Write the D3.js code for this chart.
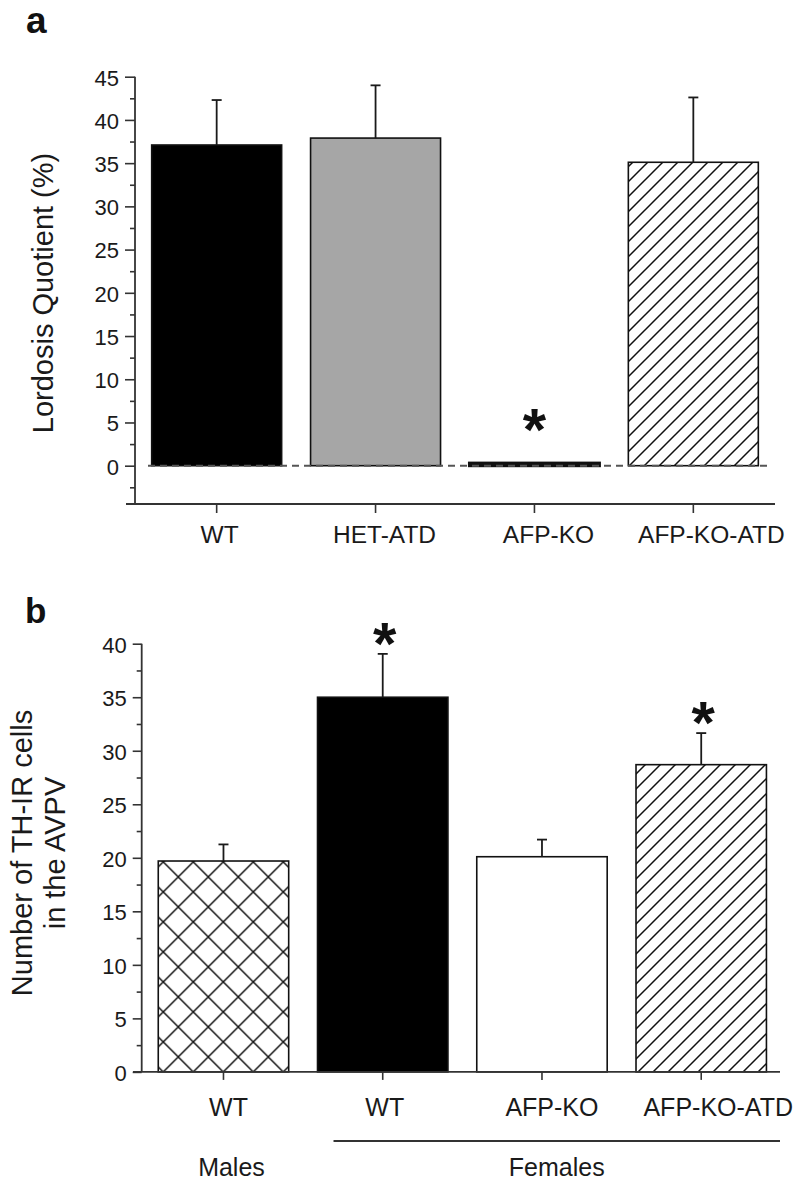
<!DOCTYPE html>
<html>
<head>
<meta charset="utf-8">
<script src="https://cdn.jsdelivr.net/npm/d3@7"></script>
<style>
  html, body { margin: 0; padding: 0; background: #fff; }
  svg { display: block; }
  text { font-family: "Liberation Sans", Arial, Helvetica, sans-serif; fill: #1a1a1a; }
</style>
</head>
<body>
<svg id="chart" width="800" height="1185"></svg>
<script>
// ---------------- Data ----------------
// Panel a
const catsA = ["WT", "HET-ATD", "AFP-KO", "AFP-KO-ATD"];
const meanA = [37.1, 37.9, 0.3, 35.1];
const semA  = [5.2, 6.1, 0, 7.5];
const sigA  = [false, false, true, false];
const ticksA = [0, 5, 10, 15, 20, 25, 30, 35, 40, 45];

// Panel b
const catsB = ["WT", "WT", "AFP-KO", "AFP-KO-ATD"];
const sexB  = ["Males", "Females", "Females", "Females"];
const meanB = [19.7, 35.0, 20.1, 28.7];
const semB  = [1.55, 4.05, 1.6, 2.95];
const sigB  = [false, true, false, true];
const ticksB = [0, 5, 10, 15, 20, 25, 30, 35, 40];

// Styles (kept separate from data)
const fillA = ["black", "gray", "black", "hatch"];
const fillB = ["cross", "black", "white", "hatch"];
const labelShiftA = [3, 9, 14, 18];
const labelShiftB = [5, 2, 10, 17];

// ---------------- Setup ----------------
const svg = d3.select("#chart");
const defs = svg.append("defs");
const ink = "#1a1a1a";

function fillOf(k, patId) {
  if (k === "black") return "#000";
  if (k === "gray") return "#a6a6a6";
  if (k === "white") return "#fff";
  return "url(#" + patId + ")";
}

// diagonal hatch pattern
function makeHatch(id) {
  const p = defs.append("pattern").attr("id", id)
    .attr("patternUnits", "userSpaceOnUse").attr("width", 15).attr("height", 15);
  p.append("rect").attr("width", 15).attr("height", 15).attr("fill", "#fff");
  p.append("path").attr("d", "M-4,4 L4,-4 M0,15 L15,0 M11,19 L19,11")
    .attr("stroke", "#111").attr("stroke-width", 1.5);
}
makeHatch("hatchA");
makeHatch("hatchB");

// ---------------- Panel a ----------------
const xA = d3.scaleBand().domain(d3.range(catsA.length)).range([135, 775])
  .paddingInner(0.182).paddingOuter(0.105);
const yA = d3.scaleLinear().domain([0, 45]).range([465.7, 76.7]);
const axisBottomA = 504;

const gA = svg.append("g");
gA.append("text").attr("x", 26).attr("y", 33).attr("font-size", 37).attr("font-weight", "bold")
  .style("fill", "#111").text("a");

// bars
gA.selectAll("rect.bar").data(meanA).join("rect")
  .attr("class", "bar")
  .attr("x", (d, i) => xA(i)).attr("width", xA.bandwidth())
  .attr("y", d => yA(d)).attr("height", d => yA(0) - yA(d))
  .attr("fill", (d, i) => fillOf(fillA[i], "hatchA"))
  .attr("stroke", "#111").attr("stroke-width", (d, i) => fillA[i] === "black" && d < 1 ? 3 : 1.6);

// error bars
meanA.forEach((m, i) => {
  if (semA[i] <= 0) return;
  const cx = xA(i) + xA.bandwidth() / 2;
  gA.append("line").attr("x1", cx).attr("x2", cx).attr("y1", yA(m)).attr("y2", yA(m + semA[i]))
    .attr("stroke", ink).attr("stroke-width", 1.8);
  gA.append("line").attr("x1", cx - 5).attr("x2", cx + 5).attr("y1", yA(m + semA[i])).attr("y2", yA(m + semA[i]))
    .attr("stroke", ink).attr("stroke-width", 1.8);
});

// dashed zero line
gA.append("line").attr("x1", 148).attr("x2", 768).attr("y1", yA(0)).attr("y2", yA(0))
  .attr("stroke", "#555").attr("stroke-width", 2).attr("stroke-dasharray", "7,5");

// asterisks
sigA.forEach((s, i) => {
  if (!s) return;
  gA.append("text").attr("x", xA(i) + xA.bandwidth() / 2).attr("y", yA(meanA[i] + semA[i]) - 13)
    .attr("text-anchor", "middle").attr("font-size", 60).attr("font-weight", "bold")
    .style("fill", "#111").text("*");
});

// y axis
const majA = d3.axisLeft(yA).tickValues(ticksA).tickSize(10).tickPadding(6);
const minA = d3.axisLeft(yA).tickValues(d3.range(-2.5, 45, 5)).tickSize(5).tickFormat("");
const gyA = gA.append("g").attr("transform", "translate(135,0)").call(majA);
const gyA2 = gA.append("g").attr("transform", "translate(135,0)").call(minA);
[gyA, gyA2].forEach(g => {
  g.select(".domain").remove();
  g.selectAll("line").attr("stroke", "#333").attr("stroke-width", 1.6);
});
gyA.selectAll("text").attr("font-size", 22).style("fill", ink).attr("dy", "0.38em");
gA.append("line").attr("x1", 135).attr("x2", 135).attr("y1", yA(45)).attr("y2", axisBottomA)
  .attr("stroke", "#333").attr("stroke-width", 1.8);

// x axis
gA.append("line").attr("x1", 126).attr("x2", 775).attr("y1", axisBottomA).attr("y2", axisBottomA)
  .attr("stroke", "#333").attr("stroke-width", 1.8);
catsA.forEach((c, i) => {
  const cx = xA(i) + xA.bandwidth() / 2;
  gA.append("line").attr("x1", cx).attr("x2", cx).attr("y1", axisBottomA).attr("y2", axisBottomA + 9)
    .attr("stroke", "#333").attr("stroke-width", 1.6);
  gA.append("text").attr("x", cx + labelShiftA[i]).attr("y", 543).attr("text-anchor", "middle")
    .attr("font-size", 24.5).text(c);
});

// y title
gA.append("text").attr("transform", "translate(53,293) rotate(-90)").attr("text-anchor", "middle")
  .attr("font-size", 29).text("Lordosis Quotient (%)");

// ---------------- Panel b ----------------
const xB = d3.scaleBand().domain(d3.range(catsB.length)).range([141.7, 783])
  .paddingInner(0.181).paddingOuter(0.104);
const yB = d3.scaleLinear().domain([0, 40]).range([1071.9, 643.7]);

// crosshatch pattern aligned to axis
const crossP = defs.append("pattern").attr("id", "crossB")
  .attr("patternUnits", "userSpaceOnUse").attr("width", 30).attr("height", 30)
  .attr("patternTransform", `translate(${xB(0) + 5},${yB(0)})`);
crossP.append("rect").attr("width", 30).attr("height", 30).attr("fill", "#fff");
crossP.append("path").attr("d", "M0,0 L30,30 M0,30 L30,0 M-5,5 L5,-5 M25,35 L35,25 M-5,25 L5,35 M25,-5 L35,5")
  .attr("stroke", "#111").attr("stroke-width", 1.5);

const gB = svg.append("g");
gB.append("text").attr("x", 25).attr("y", 623).attr("font-size", 35).attr("font-weight", "bold")
  .style("fill", "#111").text("b");

gB.selectAll("rect.bar").data(meanB).join("rect")
  .attr("class", "bar")
  .attr("x", (d, i) => xB(i)).attr("width", xB.bandwidth())
  .attr("y", d => yB(d)).attr("height", d => yB(0) - yB(d))
  .attr("fill", (d, i) => fillB[i] === "cross" ? "url(#crossB)" : fillOf(fillB[i], "hatchB"))
  .attr("stroke", "#111").attr("stroke-width", 1.6);

meanB.forEach((m, i) => {
  const cx = xB(i) + xB.bandwidth() / 2;
  gB.append("line").attr("x1", cx).attr("x2", cx).attr("y1", yB(m)).attr("y2", yB(m + semB[i]))
    .attr("stroke", ink).attr("stroke-width", 1.8);
  gB.append("line").attr("x1", cx - 5).attr("x2", cx + 5).attr("y1", yB(m + semB[i])).attr("y2", yB(m + semB[i]))
    .attr("stroke", ink).attr("stroke-width", 1.8);
  if (sigB[i]) {
    gB.append("text").attr("x", cx + 2).attr("y", yB(m + semB[i]) + 10)
      .attr("text-anchor", "middle").attr("font-size", 60).attr("font-weight", "bold")
      .style("fill", "#111").text("*");
  }
});

const majB = d3.axisLeft(yB).tickValues(ticksB).tickSize(9).tickPadding(6);
const minB = d3.axisLeft(yB).tickValues(d3.range(2.5, 40, 5)).tickSize(5).tickFormat("");
const gyB = gB.append("g").attr("transform", "translate(141.7,0)").call(majB);
const gyB2 = gB.append("g").attr("transform", "translate(141.7,0)").call(minB);
[gyB, gyB2].forEach(g => {
  g.select(".domain").remove();
  g.selectAll("line").attr("stroke", "#333").attr("stroke-width", 1.6);
});
gyB.selectAll("text").attr("font-size", 22).style("fill", ink).attr("dy", "0.38em");
gB.append("line").attr("x1", 141.7).attr("x2", 141.7).attr("y1", yB(40)).attr("y2", yB(0))
  .attr("stroke", "#333").attr("stroke-width", 1.8);

gB.append("line").attr("x1", 133).attr("x2", 780).attr("y1", yB(0)).attr("y2", yB(0))
  .attr("stroke", "#333").attr("stroke-width", 1.8);
catsB.forEach((c, i) => {
  const cx = xB(i) + xB.bandwidth() / 2;
  gB.append("line").attr("x1", cx).attr("x2", cx).attr("y1", yB(0)).attr("y2", yB(0) + 8)
    .attr("stroke", "#333").attr("stroke-width", 1.6);
  gB.append("text").attr("x", cx + labelShiftB[i]).attr("y", 1116).attr("text-anchor", "middle")
    .attr("font-size", 25).text(c);
});

// group labels
const males = sexB.map((s, i) => i).filter(i => sexB[i] === "Males");
const females = sexB.map((s, i) => i).filter(i => sexB[i] === "Females");
const mCx = d3.mean(males, i => xB(i) + xB.bandwidth() / 2);
gB.append("text").attr("x", mCx + 8).attr("y", 1176).attr("text-anchor", "middle")
  .attr("font-size", 25).text("Males");
const fx1 = xB(females[0]) + 16, fx2 = 780;
gB.append("line").attr("x1", fx1).attr("x2", fx2).attr("y1", 1141).attr("y2", 1141)
  .attr("stroke", "#333").attr("stroke-width", 1.8);
gB.append("text").attr("x", (fx1 + fx2) / 2).attr("y", 1176).attr("text-anchor", "middle")
  .attr("font-size", 25).text("Females");

// y title (two lines)
gB.append("text").attr("transform", "translate(32,853) rotate(-90)").attr("text-anchor", "middle")
  .attr("font-size", 29).text("Number of TH-IR cells");
gB.append("text").attr("transform", "translate(65,853) rotate(-90)").attr("text-anchor", "middle")
  .attr("font-size", 29).text("in the AVPV");
</script>
</body>
</html>
